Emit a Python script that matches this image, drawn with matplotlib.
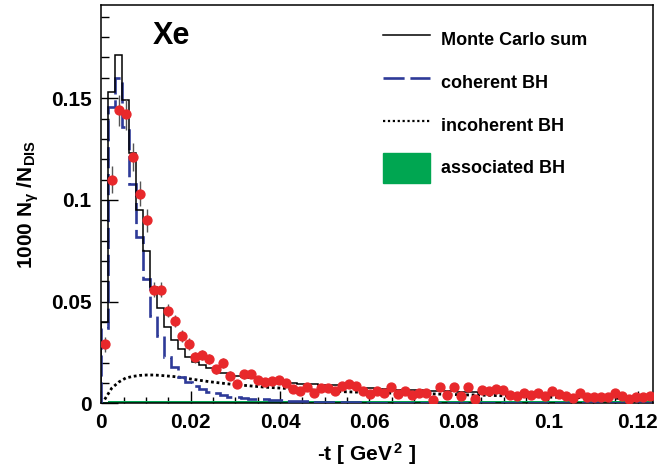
import numpy as np
import matplotlib
matplotlib.use("Agg")
import matplotlib.pyplot as plt
from matplotlib.ticker import MultipleLocator, FuncFormatter
from matplotlib.lines import Line2D
from matplotlib.patches import Patch

plt.rcParams['font.family'] = ['Liberation Sans', 'DejaVu Sans']
plt.rcParams['font.weight'] = 'bold'
plt.rcParams['mathtext.fontset'] = 'custom'
plt.rcParams['mathtext.rm'] = 'Liberation Sans:bold'
plt.rcParams['mathtext.it'] = 'Liberation Sans:bold'
plt.rcParams['mathtext.bf'] = 'Liberation Sans:bold'

## binning in -t
n_bins = 79
bin_width = 0.0015625
edges = np.arange(n_bins + 1) * bin_width
centers = edges[:-1] + bin_width / 2

## measured data
data = [0.029, 0.110, 0.144, 0.142, 0.121, 0.103, 0.090, 0.056, 0.056, 0.0456,
        0.0405, 0.0333, 0.0291, 0.0227, 0.0238, 0.0220, 0.0168, 0.0198, 0.0137, 0.0094,
        0.0143, 0.0146, 0.0115, 0.0107, 0.0110, 0.0115, 0.0102, 0.0071, 0.0063, 0.0080,
        0.0053, 0.0075, 0.0078, 0.0063, 0.0085, 0.0097, 0.0085, 0.0063, 0.0046, 0.0060,
        0.0054, 0.0081, 0.0045, 0.0062, 0.0043, 0.0052, 0.0052, 0.0017, 0.0080, 0.0040,
        0.0080, 0.0038, 0.0080, 0.0024, 0.0064, 0.0061, 0.0071, 0.0066, 0.0042, 0.0037,
        0.0053, 0.0042, 0.0050, 0.0037, 0.0061, 0.0047, 0.0037, 0.0026, 0.0053, 0.0033,
        0.0030, 0.0030, 0.0030, 0.0050, 0.0037, 0.0021, 0.0030, 0.0030, 0.0037]

data_err = [0.0039, 0.0065, 0.0078, 0.0078, 0.0070, 0.0062, 0.0057, 0.0035, 0.0035, 0.0033,
            0.0031, 0.0030, 0.0029, 0.0026, 0.0026, 0.0025, 0.0023, 0.0024, 0.0021, 0.0019,
            0.0021, 0.0021, 0.0019, 0.0018, 0.0019, 0.0019, 0.0018, 0.0016, 0.0016, 0.0017,
            0.0015, 0.0016, 0.0017, 0.0016, 0.0017, 0.0018, 0.0017, 0.0016, 0.0014, 0.0015,
            0.0015, 0.0017, 0.0014, 0.0015, 0.0014, 0.0015, 0.0015, 0.0010, 0.0017, 0.0013,
            0.0017, 0.0013, 0.0017, 0.0011, 0.0015, 0.0015, 0.0016, 0.0015, 0.0013, 0.0013,
            0.0014, 0.0013, 0.0014, 0.0013, 0.0015, 0.0014, 0.0013, 0.0011, 0.0014, 0.0012,
            0.0012, 0.0012, 0.0012, 0.0014, 0.0013, 0.0010, 0.0012, 0.0012, 0.0013]

## Monte Carlo
mc_sum = [0.040, 0.153, 0.171, 0.149, 0.123, 0.095, 0.075, 0.057, 0.047, 0.0377,
          0.0312, 0.0266, 0.0230, 0.0205, 0.0188, 0.0172, 0.0160, 0.0148, 0.0140, 0.0134,
          0.0130, 0.0125, 0.0120, 0.0116, 0.0112, 0.0108, 0.0104, 0.0101, 0.0098, 0.0096,
          0.0094, 0.0092, 0.0090, 0.0089, 0.0087, 0.0084, 0.0080, 0.0077, 0.0074, 0.0072,
          0.0070, 0.0068, 0.0067, 0.0066, 0.0065, 0.0064, 0.0063, 0.0062, 0.0061, 0.0060,
          0.0059, 0.0058, 0.0057, 0.0056, 0.0054, 0.0053, 0.0052, 0.0050, 0.0049, 0.0048,
          0.0047, 0.0046, 0.0045, 0.0044, 0.0043, 0.0043, 0.0042, 0.0041, 0.0041, 0.0040,
          0.0039, 0.0039, 0.0038, 0.0038, 0.0037, 0.0037, 0.0036, 0.0036, 0.0035]

coherent = [0.037, 0.1455, 0.160, 0.136, 0.108, 0.082, 0.061, 0.043, 0.033, 0.023,
            0.018, 0.013, 0.0105, 0.0085, 0.0070, 0.0058, 0.0050, 0.0042, 0.0034, 0.0030,
            0.0027, 0.0024, 0.0022, 0.0020, 0.0018, 0.0016, 0.0014, 0.0012, 0.0011, 0.0010,
            0.0009, 0.0008, 0.0007, 0.0006, 0.0006, 0.0005, 0.0005, 0.0004, 0.0004, 0.0003,
            0.0003, 0.0003, 0.0002, 0.0002, 0.0002, 0.0002, 0.0001, 0.0001, 0.0001, 0.0001,
            0.0001, 0.0001, 0.0001, 0.0, 0.0, 0.0, 0.0, 0.0, 0.0, 0.0,
            0.0, 0.0, 0.0, 0.0, 0.0, 0.0, 0.0, 0.0, 0.0, 0.0,
            0.0, 0.0, 0.0, 0.0, 0.0, 0.0, 0.0, 0.0, 0.0]

incoherent = [0.0020, 0.0075, 0.0105, 0.0125, 0.0133, 0.0138, 0.0140, 0.0140, 0.0138, 0.0135,
              0.0132, 0.0128, 0.0122, 0.0117, 0.0112, 0.0107, 0.0103, 0.0099, 0.0095, 0.0092,
              0.0089, 0.0086, 0.0083, 0.0080, 0.0078, 0.0076, 0.0074, 0.0072, 0.0070, 0.0068,
              0.0066, 0.0064, 0.0062, 0.0060, 0.0058, 0.0057, 0.0056, 0.0055, 0.0054, 0.0053,
              0.0052, 0.0051, 0.0050, 0.0050, 0.0049, 0.0048, 0.0047, 0.0047, 0.0046, 0.0045,
              0.0044, 0.0043, 0.0042, 0.0042, 0.0041, 0.0040, 0.0039, 0.0038, 0.0037, 0.0036,
              0.0035, 0.0034, 0.0033, 0.0032, 0.0031, 0.0031, 0.0030, 0.0029, 0.0029, 0.0028,
              0.0027, 0.0027, 0.0026, 0.0026, 0.0025, 0.0025, 0.0024, 0.0024, 0.0023]

associated = [0.0008, 0.0010, 0.0011, 0.0012, 0.0012, 0.0012, 0.0013, 0.0013, 0.0013, 0.0013,
              0.0013, 0.0013, 0.0014, 0.0014, 0.0013, 0.0014, 0.0014, 0.0013, 0.0014, 0.0014,
              0.0013, 0.0014, 0.0013, 0.0013, 0.0014, 0.0013, 0.0013, 0.0013, 0.0014, 0.0013,
              0.0013, 0.0013, 0.0013, 0.0013, 0.0012, 0.0013, 0.0013, 0.0012, 0.0013, 0.0012,
              0.0012, 0.0013, 0.0012, 0.0012, 0.0012, 0.0012, 0.0012, 0.0012, 0.0012, 0.0012,
              0.0012, 0.0011, 0.0012, 0.0012, 0.0011, 0.0012, 0.0011, 0.0011, 0.0011, 0.0011,
              0.0011, 0.0011, 0.0011, 0.0011, 0.0011, 0.0011, 0.0011, 0.0011, 0.0010, 0.0011,
              0.0011, 0.0010, 0.0011, 0.0010, 0.0010, 0.0011, 0.0010, 0.0010, 0.0010]

red = '#e8282b'
blue = '#2e3a98'
green = '#00a651'

fig = plt.figure(figsize=(6.58, 4.70), dpi=100)
ax = fig.add_axes([0.1538, 0.1415, 0.8386, 0.8479])

ax.stairs(associated, edges, fill=True, color=green, lw=0, zorder=2)
ax.plot(centers, incoherent, color='black', lw=2.0, linestyle=(0, (1, 1)), zorder=3)
ax.stairs(coherent, edges, color=blue, lw=1.9, linestyle=(0, (8, 2.2)), zorder=3)
ax.stairs(mc_sum, edges, color='black', lw=1.1, zorder=4)
ax.errorbar(centers, data, yerr=data_err, fmt='o', color=red, ms=6.4,
            ecolor='#555555', elinewidth=1, capsize=0, zorder=5)

ax.set_xlim(0, edges[-1])
ax.set_ylim(0, 0.1958)

ax.xaxis.set_major_locator(MultipleLocator(0.02))
ax.xaxis.set_minor_locator(MultipleLocator(0.005))
ax.yaxis.set_major_locator(MultipleLocator(0.05))
ax.yaxis.set_minor_locator(MultipleLocator(0.01))
fmt = FuncFormatter(lambda v, p: '%g' % round(v, 4))
ax.xaxis.set_major_formatter(fmt)
ax.yaxis.set_major_formatter(fmt)

ax.tick_params(which='both', direction='in', top=False, right=False, width=1)
ax.tick_params(axis='y', which='major', length=12, labelsize=15, pad=7)
ax.tick_params(axis='y', which='minor', length=6)
ax.tick_params(axis='x', which='major', length=9, labelsize=15, pad=7)
ax.tick_params(axis='x', which='minor', length=4.5)
for s in ax.spines.values():
    s.set_linewidth(1.1)

ax.set_xlabel(r'-t [ GeV$^{\,2}$ ]', fontsize=15, fontweight='bold')
ax.xaxis.set_label_coords(0.48, -0.095)
ax.set_ylabel(r'1000 N$_{\gamma}$ /N$_{DIS}$', fontsize=15, fontweight='bold')
ax.yaxis.set_label_coords(-0.11, 0.5)

fig.text(153 / 658, 1 - 44 / 470, 'Xe', fontsize=22, fontweight='bold', va='baseline')

handles = [Line2D([], [], color='black', lw=1.1),
           Line2D([], [], color=blue, lw=1.9, linestyle=(0, (8, 2.2))),
           Line2D([], [], color='black', lw=1.6, linestyle=(0, (1, 1.2))),
           Patch(facecolor=green, edgecolor=green)]
labels = ['Monte Carlo sum', 'coherent BH', 'incoherent BH', 'associated BH']
ax.legend(handles, labels, fontsize=13, frameon=False, loc='upper left',
          bbox_to_anchor=(383 / 658, 1 - 25 / 470), bbox_transform=fig.transFigure,
          handlelength=2.6, handleheight=2.15, labelspacing=0.72, handletextpad=0.6,
          borderpad=0, borderaxespad=0)

fig.savefig('out.png', dpi=100)
